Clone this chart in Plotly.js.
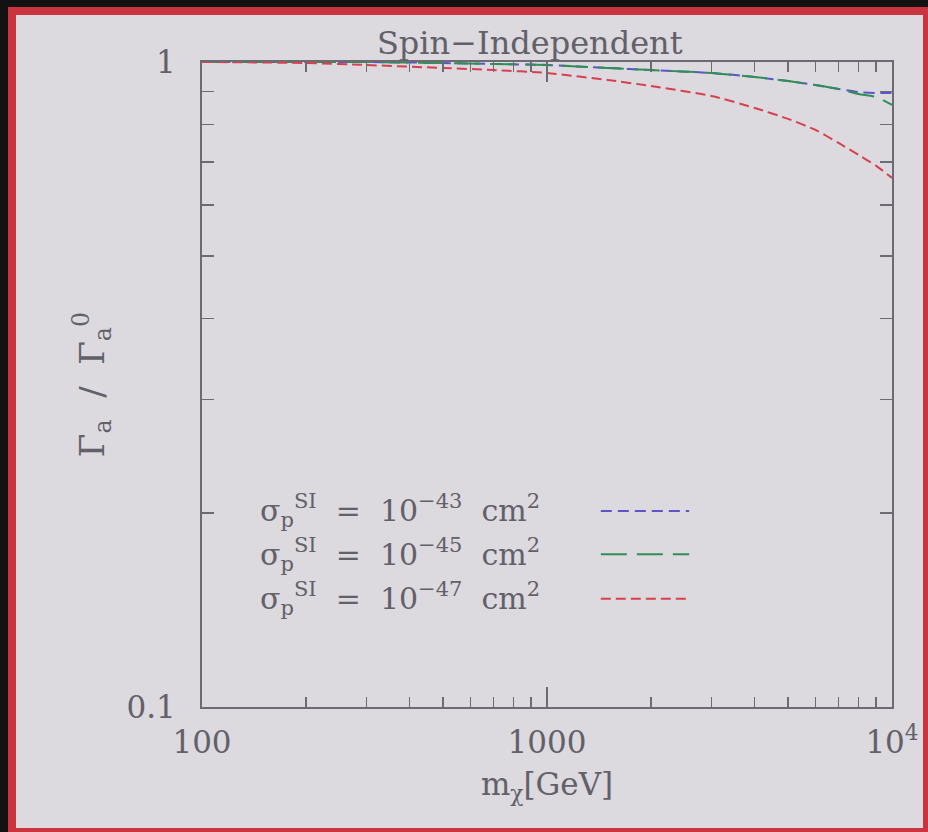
<!DOCTYPE html>
<html>
<head>
<meta charset="utf-8">
<script src="https://cdn.plot.ly/plotly-3.0.1.min.js"></script>
<style>
  html, body { margin: 0; padding: 0; background: #dcd9df; }
  #wrap { position: relative; width: 928px; height: 832px; overflow: hidden; }
  #plot { position: absolute; left: 0; top: 0; width: 928px; height: 832px; }
  #frameBlack { position: absolute; left: 0; top: 0; width: 928px; height: 832px; box-sizing: border-box;
    border-top: 7px solid #121212; border-left: 8px solid #121212; pointer-events: none; }
  #frameRed { position: absolute; left: 8px; top: 7px; width: 920px; height: 825px; box-sizing: border-box;
    border-top: 8px solid #c9343f; border-left: 8px solid #c9343f; border-right: 5px solid #c9343f;
    border-bottom: 4px solid #c9343f; pointer-events: none; }
</style>
</head>
<body>
<div id="wrap">
  <div id="plot"></div>
  <div id="frameBlack"></div>
  <div id="frameRed"></div>
</div>
<script>
// Dark-matter mass [GeV]
const massGeV = [100, 200, 300, 500, 700, 1000, 1500, 2000, 3000, 4000, 5000, 6000, 7000, 8000, 9000, 10000];
// Gamma_a / Gamma_a^0 for sigma_p^SI = 1e-43 cm^2
const ratio43 = [1.0, 1.0, 1.0, 0.9964, 0.9930, 0.9893, 0.9788, 0.9718, 0.9615, 0.9479, 0.9344, 0.9212, 0.9082, 0.8984, 0.8952, 0.8952];
// sigma_p^SI = 1e-45 cm^2
const ratio45 = [1.0, 1.0, 1.0, 0.9964, 0.9930, 0.9893, 0.9788, 0.9718, 0.9615, 0.9479, 0.9344, 0.9212, 0.9082, 0.8920, 0.8826, 0.8579];
// sigma_p^SI = 1e-47 cm^2
const ratio47 = [1.0, 0.9964, 0.9893, 0.9788, 0.9718, 0.9615, 0.9378, 0.9180, 0.8858, 0.8487, 0.8161, 0.7847, 0.7490, 0.7177, 0.6901, 0.6612];

const seriesNames = ["σ<sub>p</sub><sup>SI</sup>  =  10<sup>−43</sup>  cm<sup>2</sup>",
                     "σ<sub>p</sub><sup>SI</sup>  =  10<sup>−45</sup>  cm<sup>2</sup>",
                     "σ<sub>p</sub><sup>SI</sup>  =  10<sup>−47</sup>  cm<sup>2</sup>"];
const seriesColors = ["#5a55c8", "#2f8f55", "#d8404e"];
const seriesDash = ["11px,6px", "26px,10px", "10px,5px"];

const xTickVals = [100, 1000, 10000];
const xTickText = ["100", "1000", "10<sup>4</sup>"];
const xMinorVals = [200, 300, 400, 500, 600, 700, 800, 900, 2000, 3000, 4000, 5000, 6000, 7000, 8000, 9000];
const yTickVals = [0.1, 1];
const yTickText = ["0.1", "1"];
const yMinorVals = [0.2, 0.3, 0.4, 0.5, 0.6, 0.7, 0.8, 0.9];

const ys = [ratio43, ratio45, ratio47];
const traces = ys.map((y, i) => ({
  x: massGeV, y: y, type: "scatter", mode: "lines", name: seriesNames[i],
  line: { color: seriesColors[i], width: 2, dash: seriesDash[i], shape: "spline", smoothing: 0.6 },
  showlegend: false, hoverinfo: "skip"
}));

const axisCol = "#6c6a72";
const txtCol = "#626068";
const serif = "DejaVu Serif, Liberation Serif, serif";

// legend drawn as annotations (text left, key line right)
const legY = [0.304, 0.237, 0.168];
const annotations = seriesNames.map((t, i) => ({
  xref: "paper", yref: "paper", x: 0.081, y: legY[i], xanchor: "left", yanchor: "middle",
  text: t, showarrow: false, font: { family: serif, size: 30, color: txtCol }
}));
const shapes = seriesNames.map((t, i) => ({
  type: "line", xref: "paper", yref: "paper", x0: 0.578, x1: 0.706, y0: legY[i], y1: legY[i],
  line: { color: seriesColors[i], width: 2, dash: seriesDash[i] }
}));

const layout = {
  width: 928, height: 832,
  margin: { l: 202, r: 36, t: 62, b: 125, autoexpand: false },
  paper_bgcolor: "#dcd9df", plot_bgcolor: "#dcd9df",
  font: { family: serif, color: txtCol, size: 30 },
  title: { text: "Spin−Independent", font: { family: serif, size: 32, color: txtCol },
           x: 0.475, xref: "paper", xanchor: "center", y: 0.948, yref: "container", yanchor: "middle" },
  xaxis: {
    type: "log", range: [2, 4], showgrid: false, zeroline: false,
    showline: true, linecolor: axisCol, linewidth: 2, mirror: "ticks",
    ticks: "inside", ticklen: 20, tickwidth: 1.5, tickcolor: axisCol,
    tickmode: "array", tickvals: xTickVals, ticktext: xTickText,
    tickfont: { family: serif, size: 31, color: txtCol }, ticklabelstandoff: 7,
    minor: { ticks: "inside", ticklen: 10, tickwidth: 1.5, tickcolor: axisCol, tickmode: "array", tickvals: xMinorVals, showgrid: false },
    title: { text: "m<sub>χ</sub>[GeV]", font: { family: serif, size: 31, color: txtCol }, standoff: 14 }
  },
  yaxis: {
    type: "log", range: [-1, 0], showgrid: false, zeroline: false,
    showline: true, linecolor: axisCol, linewidth: 2, mirror: "ticks",
    ticks: "inside", ticklen: 12, tickwidth: 1.5, tickcolor: axisCol,
    tickmode: "array", tickvals: yTickVals, ticktext: yTickText,
    tickfont: { family: serif, size: 31, color: txtCol }, ticklabelstandoff: 18,
    minor: { ticks: "inside", ticklen: 12, tickwidth: 1.5, tickcolor: axisCol, tickmode: "array", tickvals: yMinorVals, showgrid: false },
    title: { text: "Γ<sub>a</sub>  /  Γ<sub>a</sub><sup>0</sup>", font: { family: serif, size: 34, color: txtCol }, standoff: 12 }
  },
  annotations: annotations,
  shapes: shapes
};

Plotly.newPlot("plot", traces, layout, { staticPlot: true, displayModeBar: false });
</script>
</body>
</html>
